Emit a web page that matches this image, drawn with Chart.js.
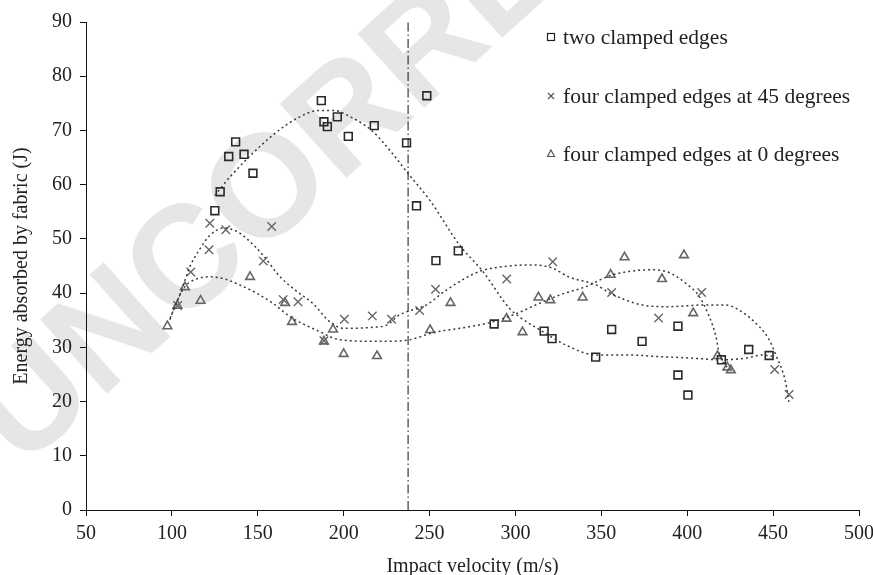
<!DOCTYPE html>
<html>
<head>
<meta charset="utf-8">
<script src="https://cdn.jsdelivr.net/npm/chart.js@4.4.1/dist/chart.umd.min.js"></script>
<style>
  html, body { margin: 0; padding: 0; background: #fff; }
  #wrap { width: 873px; height: 575px; position: relative; }
</style>
</head>
<body>
<div id="wrap"><canvas id="chart"></canvas></div>
<script>
// two clamped edges
const twoEdgesVel = [125.0, 128.1, 133.1, 137.1, 142.0, 147.2, 187.0, 188.5, 190.5, 196.3, 202.7, 217.8, 236.6, 242.4, 248.4, 253.7, 266.7, 287.6, 316.7, 321.3, 346.7, 356.0, 373.7, 394.6, 394.6, 400.4, 419.9, 435.8, 447.7];
const twoEdgesEnergy = [55.2, 58.7, 65.2, 67.9, 65.6, 62.1, 75.5, 71.6, 70.7, 72.5, 68.9, 70.9, 67.7, 56.1, 76.4, 46.0, 47.8, 34.3, 33.0, 31.6, 28.2, 33.3, 31.1, 33.9, 24.9, 21.2, 27.7, 29.6, 28.5];

// four clamped edges at 45 degrees
const four45Vel = [103.3, 111.0, 121.6, 122.1, 131.4, 153.2, 158.1, 164.8, 173.4, 188.5, 200.4, 216.7, 227.9, 244.2, 253.5, 294.9, 321.7, 356.0, 383.3, 408.4, 450.9, 459.3];
const four45Energy = [37.7, 43.9, 48.0, 52.9, 51.7, 45.9, 52.3, 38.8, 38.4, 31.2, 35.2, 35.8, 35.2, 36.8, 40.7, 42.6, 45.8, 40.1, 35.4, 40.1, 25.9, 21.3];

// four clamped edges at 0 degrees
const four0Vel = [97.4, 103.2, 107.6, 116.7, 145.5, 165.9, 169.9, 188.5, 193.8, 200.0, 219.4, 250.3, 262.2, 294.8, 304.1, 313.4, 320.3, 339.1, 355.4, 363.5, 385.3, 398.1, 403.5, 417.6, 423.4, 425.4];
const four0Energy = [33.9, 37.7, 41.1, 38.6, 43.0, 38.2, 34.7, 31.1, 33.3, 28.8, 28.4, 33.2, 38.2, 35.3, 32.8, 39.2, 38.7, 39.2, 43.4, 46.6, 42.6, 47.0, 36.3, 28.4, 26.3, 25.8];

// trend curves
const twoEdgesTrendVel = [125, 134, 159, 175, 186, 194, 204, 217, 229, 237.4, 250, 267.4, 281, 296.5, 303.3, 315.9, 329.5, 346.9, 364.3, 383.7, 403, 419.9, 434, 443.8, 450];
const twoEdgesTrendEnergy = [58, 61.5, 69.2, 72.6, 73.7, 73.7, 72.5, 69.8, 65.5, 62.1, 57.2, 48.9, 44, 37.2, 35.4, 32.9, 30.4, 28.6, 28.6, 28.3, 28, 27.7, 28, 28.6, 28.3];

const four45TrendVel = [99, 105, 110.5, 116, 122, 130, 137, 143.4, 153, 163, 172, 182, 192, 200, 217, 225, 232.6, 248, 260, 279, 296.5, 310, 321.7, 331, 347, 355, 374, 389.5, 409, 422.5, 430, 442, 447.7, 451.6, 457.4, 459.3];
const four45TrendEnergy = [35.4, 40, 44.9, 48, 50.6, 52, 51.5, 50.1, 47, 43, 40.5, 38.1, 34.7, 33.5, 33.7, 34.1, 36, 37.8, 40.6, 44, 45, 45.2, 44.6, 43, 41.5, 40, 37.8, 37.5, 37.8, 37.8, 36.9, 33.8, 31.4, 28.6, 23.4, 19.7];

const four0TrendVel = [98.8, 103, 107.6, 116.3, 122, 129.8, 139.5, 149.2, 158.9, 168.6, 186, 197.7, 221, 238.4, 251.9, 271.3, 286.8, 300.4, 313.9, 327, 341.1, 354.7, 366.3, 377.9, 387.6, 399.2, 407, 412.8, 416.7, 418.6, 424.4];
const four0TrendEnergy = [35.1, 38.5, 41.2, 42.8, 43, 42.7, 41.5, 40, 38.1, 35.7, 32.9, 31.4, 31.1, 31.4, 32.7, 33.7, 34.7, 36.2, 38.1, 39.8, 41.2, 43.2, 44, 44.3, 44, 41.8, 39.4, 35.7, 32, 28.9, 25.8];

// vertical reference line
const markerVelocity = 237.5;
const markerRange = [0, 90];

const seriesLabels = ['two clamped edges', 'four clamped edges at 45 degrees', 'four clamped edges at 0 degrees'];
const xTicks = [50, 100, 150, 200, 250, 300, 350, 400, 450, 500];
const yTicks = [0, 10, 20, 30, 40, 50, 60, 70, 80, 90];

function toPoints(xs, ys) {
    return xs.map((x, i) => ({ x: x, y: ys[i] }));
}

const serif = '"Liberation Serif", "Times New Roman", serif';

// light proof watermark behind the plot
const watermarkPlugin = {
    id: 'watermark',
    beforeDraw(chart) {
        const ctx = chart.ctx;
        ctx.save();
        ctx.translate(22, 470);
        ctx.rotate(-42 * Math.PI / 180);
        ctx.font = 'bold 145px "Liberation Sans", Arial, sans-serif';
        ctx.fillStyle = '#e6e6e6';
        ctx.fillText('UNCORRECTED PROOF', 0, 0);
        ctx.restore();
    }
};

// legend in the top right corner
const legendPlugin = {
    id: 'cornerLegend',
    afterDraw(chart) {
        const ctx = chart.ctx;
        const rows = [37, 96, 154];
        const mx = 551;
        ctx.save();
        ctx.lineWidth = 1.2;
        // square
        ctx.strokeStyle = '#222';
        ctx.strokeRect(mx - 3.5, rows[0] - 3.5, 7, 7);
        // cross
        ctx.strokeStyle = '#555';
        ctx.beginPath();
        ctx.moveTo(mx - 3, rows[1] - 3); ctx.lineTo(mx + 3, rows[1] + 3);
        ctx.moveTo(mx + 3, rows[1] - 3); ctx.lineTo(mx - 3, rows[1] + 3);
        ctx.stroke();
        // triangle
        ctx.beginPath();
        ctx.moveTo(mx, rows[2] - 4);
        ctx.lineTo(mx + 3.5, rows[2] + 2.5);
        ctx.lineTo(mx - 3.5, rows[2] + 2.5);
        ctx.closePath();
        ctx.stroke();

        ctx.fillStyle = '#222';
        ctx.font = '21.5px ' + serif;
        ctx.textBaseline = 'middle';
        ctx.textAlign = 'left';
        seriesLabels.forEach((t, i) => ctx.fillText(t, 563, rows[i] + 1));
        ctx.restore();
    }
};

const trendStyle = {
    type: 'line',
    showLine: true,
    pointRadius: 0,
    borderColor: '#3a3a3a',
    borderWidth: 1.5,
    borderDash: [2, 3],
    cubicInterpolationMode: 'monotone',
    fill: false
};

const ctx = document.getElementById('chart').getContext('2d');
const chart = new Chart(ctx, {
    type: 'scatter',
    data: {
        datasets: [
            Object.assign({ label: 'trend two', data: toPoints(twoEdgesTrendVel, twoEdgesTrendEnergy) }, trendStyle),
            Object.assign({ label: 'trend 45', data: toPoints(four45TrendVel, four45TrendEnergy) }, trendStyle),
            Object.assign({ label: 'trend 0', data: toPoints(four0TrendVel, four0TrendEnergy) }, trendStyle),
            {
                type: 'line',
                label: 'marker',
                data: markerRange.map(y => ({ x: markerVelocity, y: y })),
                borderColor: '#111',
                borderWidth: 1,
                borderDash: [9, 3, 1.5, 3],
                pointRadius: 0
            },
            {
                label: seriesLabels[0],
                data: toPoints(twoEdgesVel, twoEdgesEnergy),
                pointStyle: 'rect',
                pointRadius: 5.5,
                pointBorderWidth: 1.6,
                pointBorderColor: '#2a2a2a',
                pointBackgroundColor: 'rgba(255,255,255,0)'
            },
            {
                label: seriesLabels[1],
                data: toPoints(four45Vel, four45Energy),
                pointStyle: 'crossRot',
                pointRadius: 6,
                pointBorderWidth: 1.4,
                pointBorderColor: '#666'
            },
            {
                label: seriesLabels[2],
                data: toPoints(four0Vel, four0Energy),
                pointStyle: 'triangle',
                pointRadius: 5,
                pointBorderWidth: 1.6,
                pointBorderColor: '#666',
                pointBackgroundColor: 'rgba(255,255,255,0)'
            }
        ]
    },
    options: {
        responsive: true,
        maintainAspectRatio: false,
        animation: false,
        devicePixelRatio: 1,
        layout: { padding: { left: 0, right: 14, top: 22, bottom: 0 } },
        plugins: {
            legend: { display: false },
            tooltip: { enabled: false }
        },
        scales: {
            x: {
                type: 'linear',
                min: 50,
                max: 500,
                afterFit: s => { s.height = 65; s.paddingLeft = 0; s.paddingRight = 0; },
                afterBuildTicks: s => { s.ticks = xTicks.map(v => ({ value: v })); },
                border: { display: true, color: '#111', width: 1 },
                grid: { display: true, drawOnChartArea: false, drawTicks: true, tickLength: 6, color: '#111' },
                ticks: { color: '#222', font: { family: serif, size: 20 }, padding: 6, maxRotation: 0 },
                title: {
                    display: true,
                    text: 'Impact velocity (m/s)',
                    color: '#222',
                    font: { family: serif, size: 20, lineHeight: 0.8 },
                    padding: { top: 0, bottom: 0 }
                }
            },
            y: {
                type: 'linear',
                min: 0,
                max: 90,
                afterFit: s => { s.width = 86; },
                afterBuildTicks: s => { s.ticks = yTicks.map(v => ({ value: v })); },
                border: { display: true, color: '#111', width: 1 },
                grid: { display: true, drawOnChartArea: false, drawTicks: true, tickLength: 6, color: '#111' },
                ticks: { color: '#222', font: { family: serif, size: 20 }, padding: 8 },
                title: {
                    display: true,
                    text: 'Energy absorbed by fabric (J)',
                    color: '#222',
                    font: { family: serif, size: 20, lineHeight: 1.2 },
                    padding: { top: 10, bottom: 0 }
                }
            }
        }
    },
    plugins: [watermarkPlugin, legendPlugin]
});
</script>
</body>
</html>
